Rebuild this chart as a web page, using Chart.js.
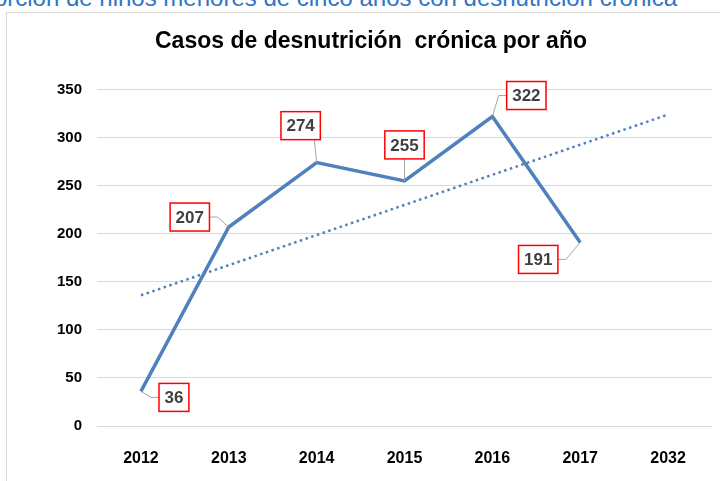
<!DOCTYPE html>
<html>
<head>
<meta charset="utf-8">
<script src="https://cdn.jsdelivr.net/npm/chart.js@4.4.1/dist/chart.umd.min.js"></script>
<style>
  html, body { margin: 0; padding: 0; background: #fff; }
  body { width: 720px; height: 481px; overflow: hidden; position: relative; }
  #caption {
    position: absolute; right: 43px; top: -16px; white-space: nowrap; line-height: 1;
    font: 24px "Liberation Sans", Arial, sans-serif; color: #2e75c6;
  }
  #box {
    position: absolute; left: 6px; top: 12px; width: 714px; height: 469px;
    border-left: 1.5px solid #d9d9d9; border-top: 1.5px solid #d9d9d9;
  }
</style>
</head>
<body>
<div id="caption">Proporción de niños menores de cinco años con desnutrición crónica</div>
<div id="box"><canvas id="chart" width="713" height="468"></canvas></div>
<script>
const years = ["2012", "2013", "2014", "2015", "2016", "2017", "2032"];
const casos = [36, 207, 274, 255, 322, 191, null];
// linear trend line as drawn in the picture: only its two ends are shown
const tendencia = [136, null, null, null, null, null, 324];
// where each callout box sits relative to its point (px)
const labelOffsets = [[33, 6], [-39, -10], [-16, -37], [0, -36], [34, -21], [-42, 17]];

const calloutPlugin = {
  id: "callouts",
  afterDatasetsDraw(chart) {
    const ctx = chart.ctx;
    const meta = chart.getDatasetMeta(0);
    ctx.save();
    ctx.font = "bold 17px 'Liberation Sans', Arial, sans-serif";
    ctx.textAlign = "center";
    ctx.textBaseline = "middle";
    meta.data.forEach((pt, i) => {
      if (casos[i] == null) return;
      const [dx, dy] = labelOffsets[i];
      const cx = pt.x + dx, cy = pt.y + dy;
      const txt = String(casos[i]);
      const w = ctx.measureText(txt).width + 11, h = 28;
      const left = cx - w / 2, top = cy - h / 2;
      // leader line: from the box edge, short elbow, then to the point
      let sx, sy, ex, ey;
      if (Math.abs(dx) > Math.abs(dy)) {
        sx = dx > 0 ? left : left + w; sy = cy;
        ex = sx + (dx > 0 ? -8 : 8); ey = cy;
      } else {
        sx = cx + (dx < 0 ? w / 2 - 6 : 0); sy = dy < 0 ? top + h : top;
        ex = sx; ey = sy;
      }
      ctx.strokeStyle = "#a6a6a6";
      ctx.lineWidth = 1;
      ctx.beginPath();
      ctx.moveTo(sx, sy);
      ctx.lineTo(ex, ey);
      ctx.lineTo(pt.x, pt.y);
      ctx.stroke();
      ctx.fillStyle = "#fff";
      ctx.fillRect(left, top, w, h);
      ctx.strokeStyle = "#ff0000";
      ctx.lineWidth = 1.5;
      ctx.strokeRect(left, top, w, h);
      ctx.fillStyle = "#404040";
      ctx.fillText(txt, cx, cy + 1);
    });
    ctx.restore();
  }
};

const tickFont = (size) => ({ family: "'Liberation Sans', Arial, sans-serif", size: size, weight: "bold" });

new Chart(document.getElementById("chart"), {
  type: "line",
  plugins: [calloutPlugin],
  data: {
    labels: years,
    datasets: [
      {
        data: casos,
        borderColor: "#4f81bd",
        borderWidth: 3.5,
        pointRadius: 0,
        tension: 0,
        order: 1,
      },
      {
        data: tendencia,
        borderColor: "#4f81bd",
        borderWidth: 2.5,
        borderDash: [2.5, 3.5],
        pointRadius: 0,
        spanGaps: true,
        order: 2,
      },
    ],
  },
  options: {
    responsive: false,
    animation: false,
    layout: { padding: { left: 23, right: 8, top: 0, bottom: 0 } },
    plugins: {
      legend: { display: false },
      tooltip: { enabled: false },
      title: {
        display: true,
        text: "Casos de desnutrición  crónica por año",
        color: "#000",
        font: tickFont(23),
        padding: { top: 15, bottom: 34 },
      },
    },
    scales: {
      x: {
        offset: true,
        grid: { display: false },
        border: { display: false },
        ticks: { color: "#000", padding: 15, font: tickFont(16) },
        afterFit: (s) => { s.height = 55; },
      },
      y: {
        min: 0,
        max: 350,
        grid: { color: "#d9d9d9", lineWidth: 1, drawTicks: false },
        border: { display: false },
        ticks: { stepSize: 50, color: "#000", padding: 15, font: tickFont(15) },
        afterFit: (s) => { s.width = 67; },
      },
    },
  },
});
</script>
</body>
</html>
